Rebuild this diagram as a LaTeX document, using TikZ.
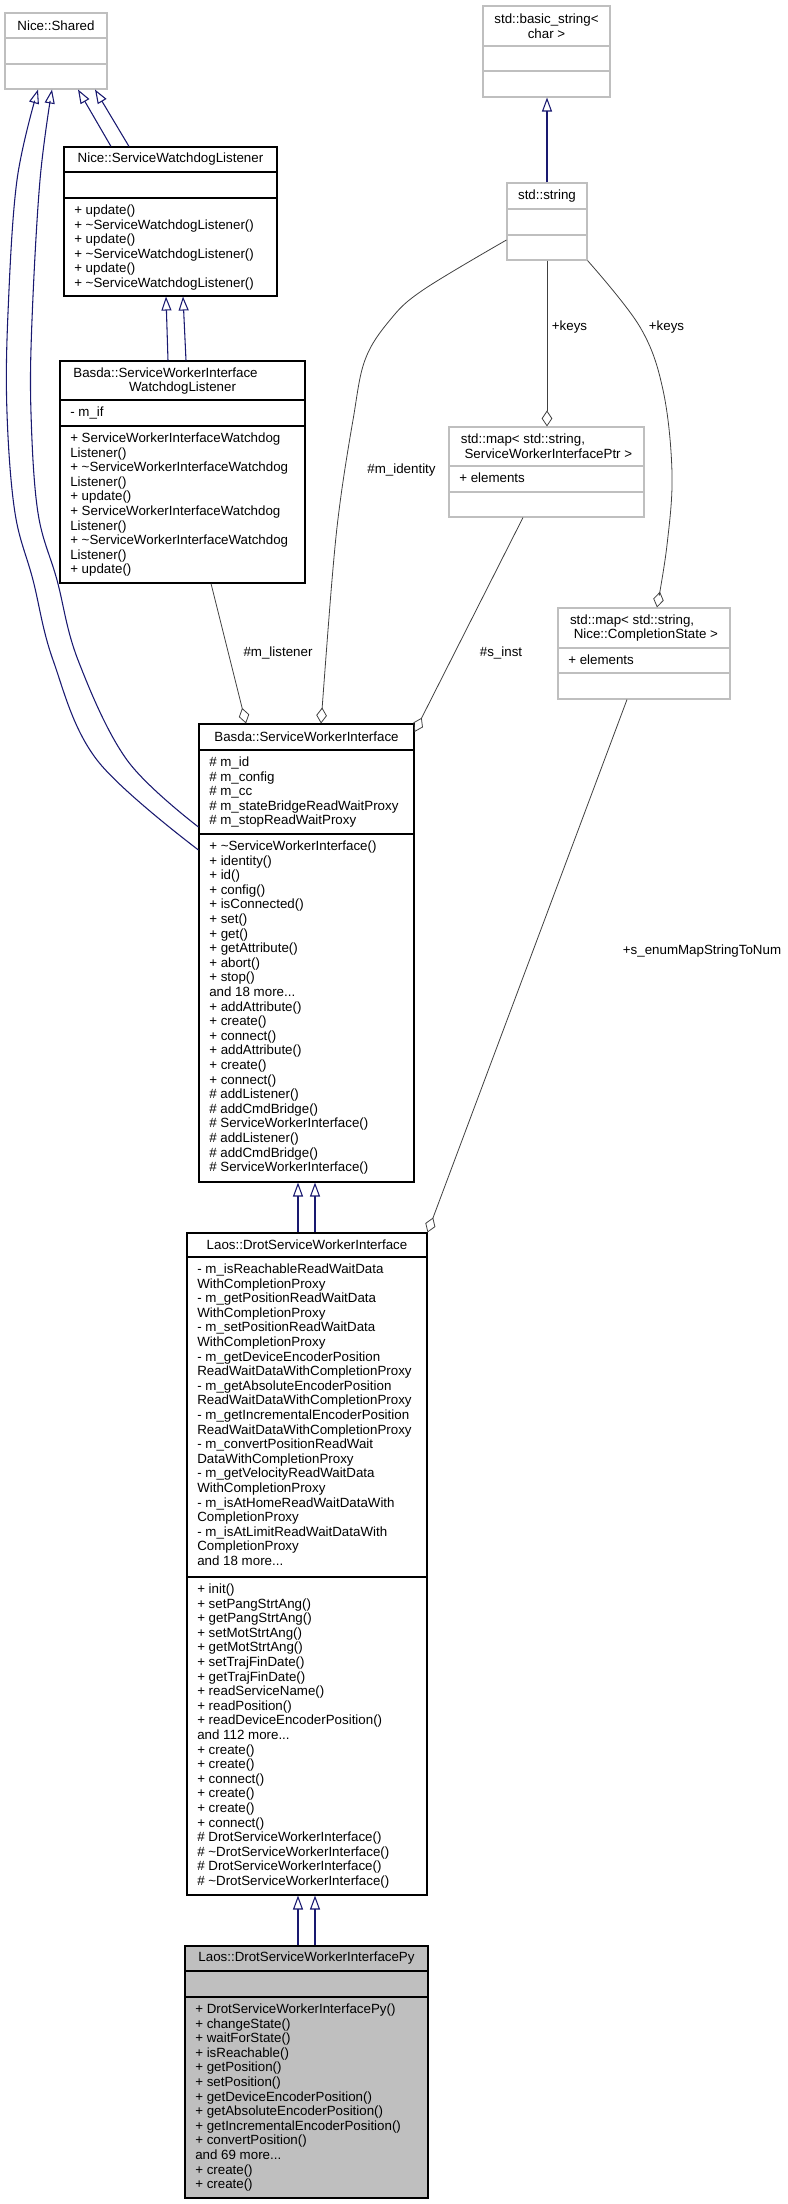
\documentclass[tikz,border=0pt]{standalone}
\usepackage{fontspec}
\setmainfont{Liberation Sans}
\usetikzlibrary{arrows.meta,fit}
\definecolor{edgeblue}{RGB}{25,25,112}
\definecolor{edgegrey}{RGB}{64,64,64}
\definecolor{framegrey}{RGB}{191,191,191}

\tikzset{
  docclass/.style={draw=black, line width=0.8pt, inner sep=0pt},
  extclass/.style={draw=framegrey, line width=0.8pt, inner sep=0pt},
  title/.style={align=center, inner sep=0pt},
  members/.style={anchor=north west, align=left, inner sep=0pt},
  inherit/.style={edgeblue, line width=0.8pt, -{Triangle[open, length=10.5pt, width=7.5pt]}},
  uses/.style={edgegrey, line width=0.6pt, -{Diamond[open, length=12pt, width=8pt]}},
  role/.style={inner sep=0pt},
}

\begin{document}
\begin{tikzpicture}[x=0.75pt, y=-0.75pt, font=\fontsize{10}{10.95}\selectfont]
    \useasboundingbox (0,0) rectangle (788,2204);

    % Nice::Shared
    \node[extclass, fit={(5,13) (107,89)}] (shared) {};
    \draw[framegrey, line width=0.8pt] (5,38) -- (107,38) (5,64) -- (107,64);
    \node[title] (sharedname) at (56,25.5) {Nice::Shared};

    % Nice::ServiceWatchdogListener
    \node[docclass, fit={(64,147) (277,296)}] (swl) {};
    \draw[line width=0.8pt] (64,172) -- (277,172) (64,198) -- (277,198);
    \node[title] (swlname) at (170.5,159.5) {Nice::ServiceWatchdogListener};
    \node[members] (swlops) at (74,204) {\strut + update()\\+ \textasciitilde ServiceWatchdogListener()\\+ update()\\+ \textasciitilde ServiceWatchdogListener()\\+ update()\\+ \textasciitilde ServiceWatchdogListener()};

    % std::basic_string< char >
    \node[extclass, fit={(483,6) (610,97)}] (bstring) {};
    \draw[framegrey, line width=0.8pt] (483,46) -- (610,46) (483,71) -- (610,71);
    \node[title] (bstringname) at (546.5,26) {std::basic\_string<\\char >};

    % std::string
    \node[extclass, fit={(507,183) (587,260)}] (string) {};
    \draw[framegrey, line width=0.8pt] (507,209) -- (587,209) (507,235) -- (587,235);
    \node[title] (stringname) at (547,196) {std::string};

    % Basda::ServiceWorkerInterfaceWatchdogListener
    \node[docclass, fit={(60,361) (305,583)}] (swiwl) {};
    \draw[line width=0.8pt] (60,400) -- (305,400) (60,426) -- (305,426);
    \node[title] (swiwlname) at (182.5,381) {Basda::ServiceWorkerInterface\hspace*{25.5pt}\\WatchdogListener};
    \node[members] (swiwlattr) at (70,406) {\strut - m\_if};
    \node[members] (swiwlops) at (70,432) {\strut + ServiceWorkerInterfaceWatchdog\\Listener()\\+ \textasciitilde ServiceWorkerInterfaceWatchdog\\Listener()\\+ update()\\+ ServiceWorkerInterfaceWatchdog\\Listener()\\+ \textasciitilde ServiceWorkerInterfaceWatchdog\\Listener()\\+ update()};

    % std::map< std::string, ServiceWorkerInterfacePtr >
    \node[extclass, fit={(449,427) (644,517)}] (mapswi) {};
    \draw[framegrey, line width=0.8pt] (449,466) -- (644,466) (449,492) -- (644,492);
    \node[title, align=left] (mapswiname) at (546.5,446.5) {std::map< std::string,\\\hspace*{2.8pt}ServiceWorkerInterfacePtr >};
    \node[members] (mapswiattr) at (459,472) {\strut + elements};

    % std::map< std::string, Nice::CompletionState >
    \node[extclass, fit={(558,608) (730,699)}] (mapcs) {};
    \draw[framegrey, line width=0.8pt] (558,648) -- (730,648) (558,673) -- (730,673);
    \node[title, align=left] (mapcsname) at (644,628) {std::map< std::string,\\\hspace*{2.8pt}Nice::CompletionState >};
    \node[members] (mapcsattr) at (568,654) {\strut + elements};

    % Basda::ServiceWorkerInterface
    \node[docclass, fit={(199,724) (414,1182)}] (swi) {};
    \draw[line width=0.8pt] (199,750) -- (414,750) (199,834) -- (414,834);
    \node[title] (swiname) at (306.5,737) {Basda::ServiceWorkerInterface};
    \node[members] (swiattr) at (209,756) {\strut \# m\_id\\\# m\_config\\\# m\_cc\\\# m\_stateBridgeReadWaitProxy\\\# m\_stopReadWaitProxy};
    \node[members] (swiops) at (209,840) {\strut + \textasciitilde ServiceWorkerInterface()\\+ identity()\\+ id()\\+ config()\\+ isConnected()\\+ set()\\+ get()\\+ getAttribute()\\+ abort()\\+ stop()\\and 18 more...\\+ addAttribute()\\+ create()\\+ connect()\\+ addAttribute()\\+ create()\\+ connect()\\\# addListener()\\\# addCmdBridge()\\\# ServiceWorkerInterface()\\\# addListener()\\\# addCmdBridge()\\\# ServiceWorkerInterface()};

    % Laos::DrotServiceWorkerInterface
    \node[docclass, fit={(187,1233) (427,1895)}] (dswi) {};
    \draw[line width=0.8pt] (187,1257) -- (427,1257) (187,1577) -- (427,1577);
    \node[title] (dswiname) at (307,1245) {Laos::DrotServiceWorkerInterface};
    \node[members] (dswiattr) at (197,1263) {\strut - m\_isReachableReadWaitData\\WithCompletionProxy\\- m\_getPositionReadWaitData\\WithCompletionProxy\\- m\_setPositionReadWaitData\\WithCompletionProxy\\- m\_getDeviceEncoderPosition\\ReadWaitDataWithCompletionProxy\\- m\_getAbsoluteEncoderPosition\\ReadWaitDataWithCompletionProxy\\- m\_getIncrementalEncoderPosition\\ReadWaitDataWithCompletionProxy\\- m\_convertPositionReadWait\\DataWithCompletionProxy\\- m\_getVelocityReadWaitData\\WithCompletionProxy\\- m\_isAtHomeReadWaitDataWith\\CompletionProxy\\- m\_isAtLimitReadWaitDataWith\\CompletionProxy\\and 18 more...};
    \node[members] (dswiops) at (197,1583) {\strut + init()\\+ setPangStrtAng()\\+ getPangStrtAng()\\+ setMotStrtAng()\\+ getMotStrtAng()\\+ setTrajFinDate()\\+ getTrajFinDate()\\+ readServiceName()\\+ readPosition()\\+ readDeviceEncoderPosition()\\and 112 more...\\+ create()\\+ create()\\+ connect()\\+ create()\\+ create()\\+ connect()\\\# DrotServiceWorkerInterface()\\\# \textasciitilde DrotServiceWorkerInterface()\\\# DrotServiceWorkerInterface()\\\# \textasciitilde DrotServiceWorkerInterface()};

    % Laos::DrotServiceWorkerInterfacePy
    \node[docclass, fill=framegrey, fit={(185,1946) (428,2198)}] (dswipy) {};
    \draw[line width=0.8pt] (185,1971) -- (428,1971) (185,1997) -- (428,1997);
    \node[title] (dswipyname) at (306.5,1958.5) {Laos::DrotServiceWorkerInterfacePy};
    \node[members] (dswipyops) at (195,2003) {\strut + DrotServiceWorkerInterfacePy()\\+ changeState()\\+ waitForState()\\+ isReachable()\\+ getPosition()\\+ setPosition()\\+ getDeviceEncoderPosition()\\+ getAbsoluteEncoderPosition()\\+ getIncrementalEncoderPosition()\\+ convertPosition()\\and 69 more...\\+ create()\\+ create()};

    % Inheritance
    \draw[inherit] (111,0 |- swl.north) -- (78,0 |- shared.south);
    \draw[inherit] (129,0 |- swl.north) -- (95,0 |- shared.south);
    \draw[inherit] (168,0 |- swiwl.north) -- (166,0 |- swl.south);
    \draw[inherit] (186,0 |- swiwl.north) -- (183,0 |- swl.south);
    \draw[inherit] plot[smooth, tension=0.6] coordinates {(swi.west |- 0,850) (97,760) (53,660) (33,580) (15,513) (7,413) (8,313) (17,180) (38,0 |- shared.south)};
    \draw[inherit] plot[smooth, tension=0.6] coordinates {(swi.west |- 0,827) (127,760) (78,660) (57,580) (38,513) (31,413) (32,320) (40,180) (52,0 |- shared.south)};
    \draw[inherit] (547,0 |- string.north) -- (547,0 |- bstring.south);
    \draw[inherit] (298,0 |- dswi.north) -- (298,0 |- swi.south);
    \draw[inherit] (315,0 |- dswi.north) -- (315,0 |- swi.south);
    \draw[inherit] (298,0 |- dswipy.north) -- (298,0 |- dswi.south);
    \draw[inherit] (315,0 |- dswipy.north) -- (315,0 |- dswi.south);

    % Members
    \draw[uses] plot[smooth, tension=0.6] coordinates {(string.west |- 0,240) (423,290) (390,320) (365,360) (353,420) (340,503) (332,580) (321,0 |- swi.north)};
    \draw[uses] (547,0 |- string.south) -- (547,0 |- mapswi.north);
    \draw[uses] plot[smooth, tension=0.6] coordinates {(string.south east) (640,327) (663,390) (672,473) (667,545) (657,0 |- mapcs.north)};
    \draw[uses] (523,0 |- mapswi.south) -- (swi.east |- 0,732);
    \draw[uses] (211,0 |- swiwl.south) -- (246,0 |- swi.north);
    \draw[uses] (627,0 |- mapcs.south) -- (dswi.north east);

    % Labels
    \node[role] (keysmap) at (569.5,327) {+keys};
    \node[role] (keysstate) at (666.5,327) {+keys};
    \node[role] (identity) at (401.5,470) {\#m\_identity};
    \node[role] (inst) at (501,653) {\#s\_inst};
    \node[role] (listener) at (278,653) {\#m\_listener};
    \node[role] (enummap) at (702,951) {+s\_enumMapStringToNum};
\end{tikzpicture}
\end{document}
